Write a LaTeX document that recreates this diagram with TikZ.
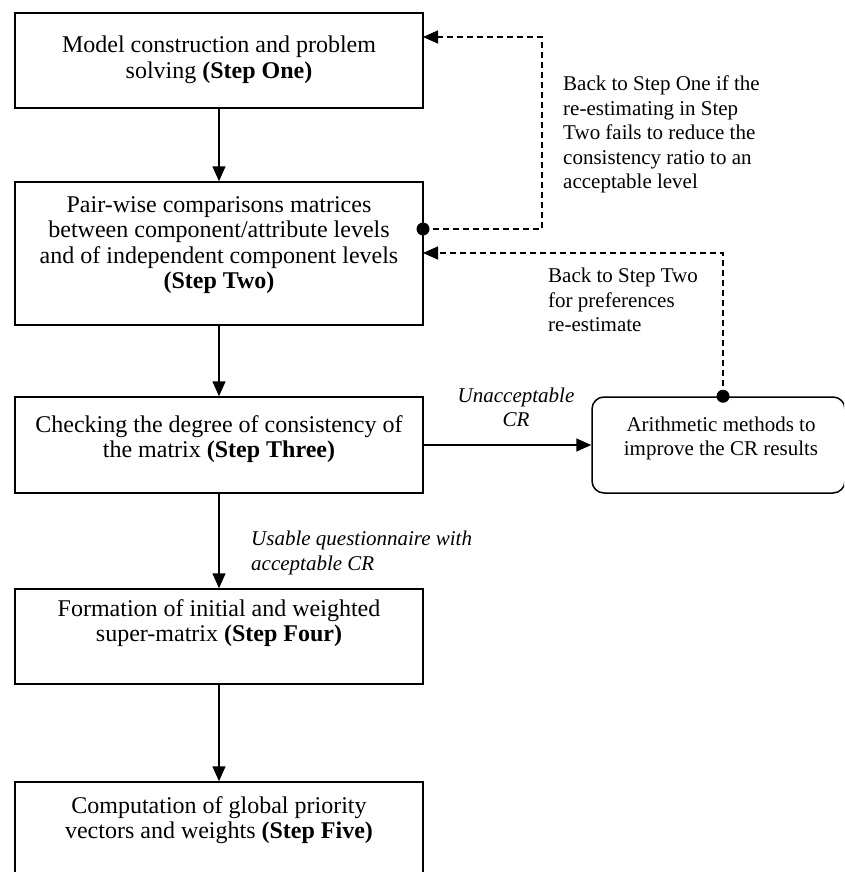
\documentclass[tikz,border=0pt]{standalone}
\usepackage{fontspec}
\setmainfont{Liberation Serif}
\usetikzlibrary{arrows.meta}

\tikzset{
  stepbox/.style={draw, line width=1.5pt, minimum width=408pt, inner sep=0pt},
  roundbox/.style={draw, line width=1.5pt, rounded corners=12pt, inner sep=0pt},
  boxtext/.style={inner sep=0pt, align=center, anchor=north,
                  font=\fontsize{24}{25.5}\selectfont},
  sidetext/.style={inner sep=0pt, align=left, anchor=north west,
                   font=\fontsize{21}{24.5}\selectfont},
  flow/.style={line width=1.5pt, -{Triangle[length=15pt,width=13pt]}},
  feedback/.style={line width=1.3pt, dash pattern=on 6pt off 4pt,
                   -{Triangle[length=15pt,width=13pt]}},
  junction/.style={circle, fill=black, inner sep=0pt, minimum size=13pt},
}

\begin{document}
\begin{tikzpicture}[x=1pt, y=-1pt]
  \useasboundingbox (0,0) rectangle (844,872);
  \clip (0,0) rectangle (844,872);

  % main chain of steps
  \node[stepbox, minimum height=95pt]  (s1) at (219,60.5)  {};
  \node[stepbox, minimum height=143pt] (s2) at (219,253.5) {};
  \node[stepbox, minimum height=96pt]  (s3) at (219,445)   {};
  \node[stepbox, minimum height=95pt]  (s4) at (219,636.5) {};
  \node[stepbox, minimum height=120pt] (s5) at (219,842)   {};

  \node[boxtext] (t1) at (219,36)
    {Model construction and problem\\ solving \textbf{(Step One)}};
  \node[boxtext] (t2) at (219,196)
    {Pair-wise comparisons matrices\\ between component/attribute levels\\
     and of independent component levels\\ \textbf{(Step Two)}};
  \node[boxtext] (t3) at (219,415)
    {Checking the degree of consistency of\\ the matrix \textbf{(Step Three)}};
  \node[boxtext] (t4) at (219,599)
    {Formation of initial and weighted\\ super-matrix \textbf{(Step Four)}};
  \node[boxtext] (t5) at (219,796)
    {Computation of global priority\\ vectors and weights \textbf{(Step Five)}};

  % side step for inconsistent matrices
  \node[roundbox, minimum width=253pt, minimum height=96pt] (ar) at (718.5,445) {};
  \node[boxtext, font=\fontsize{21}{24}\selectfont] (tar) at (721,417)
    {Arithmetic methods to\\ improve the CR results};

  % forward connectors
  \draw[flow] (s1.south) -- (s2.north);
  \draw[flow] (s2.south) -- (s3.north);
  \draw[flow] (s3.south) -- (s4.north);
  \draw[flow] (s4.south) -- (s5.north);
  \draw[flow] (s3.east) -- (ar.west);

  \node[boxtext, font=\fontsize{21}{24}\itshape] (lu) at (516,388)
    {Unacceptable\\ CR};
  \node[sidetext, font=\fontsize{21}{24.5}\itshape] (la) at (251,531)
    {Usable questionnaire with\\ acceptable CR};

  % feedback loops
  \coordinate (jA) at (423,229);
  \coordinate (kA1) at (542,229);
  \coordinate (kA2) at (542,37);
  \coordinate (eA) at (423,37);
  \draw[feedback] (jA) -- (kA1) -- (kA2) -- (eA);
  \node[junction] (dA) at (jA) {};

  \coordinate (jB) at (ar.north -| 723,0);
  \coordinate (kB) at (723,253);
  \coordinate (eB) at (423,253);
  \draw[feedback] (jB) -- (kB) -- (eB);
  \node[junction] (dB) at (jB) {};

  \node[sidetext] (lb1) at (563,76)
    {Back to Step One if the\\ re-estimating in Step\\ Two fails to reduce the\\
     consistency ratio to an\\ acceptable level};
  \node[sidetext] (lb2) at (548,268)
    {Back to Step Two\\ for preferences\\ re-estimate};
\end{tikzpicture}
\end{document}
